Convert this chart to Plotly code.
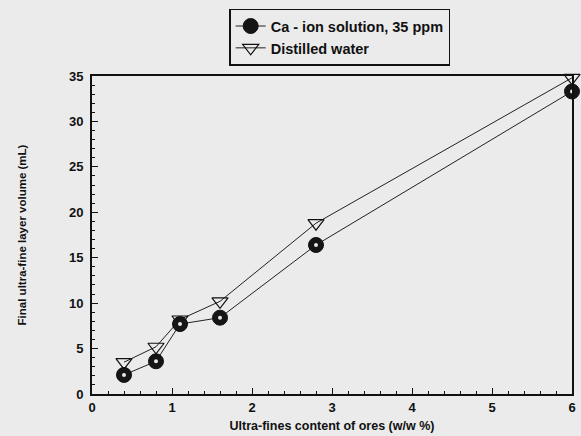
import plotly.graph_objects as go

# Ultra-fines content of ores (w/w %)
fines = [0.4, 0.8, 1.1, 1.6, 2.8, 6.0]
# Final ultra-fine layer volume (mL)
vol_ca = [2.1, 3.6, 7.7, 8.4, 16.4, 33.3]
vol_water = [3.5, 5.2, 8.2, 10.2, 18.8, 34.8]

series_names = ["Ca - ion solution, 35 ppm", "Distilled water"]

x_ticks = [0, 1, 2, 3, 4, 5, 6]
y_ticks = [0, 5, 10, 15, 20, 25, 30, 35]

BG = "#ebebeb"
FONT = "Liberation Sans"
INK = "#111"

fig = go.Figure()

fig.add_trace(go.Scatter(
    x=fines, y=vol_water, name=series_names[1], mode="lines+markers",
    cliponaxis=False,
    line=dict(color="#222", width=1),
    marker=dict(symbol="triangle-down-open", size=14, color=INK,
                line=dict(width=1.2, color=INK)),
))
fig.add_trace(go.Scatter(
    x=fines, y=vol_ca, name=series_names[0], mode="lines+markers",
    cliponaxis=False, legendgroup="ca",
    line=dict(color="#222", width=1),
    marker=dict(symbol="circle", size=15, color="#151515",
                line=dict(width=1, color=INK)),
))
# small highlight on each sphere marker
fig.add_trace(go.Scatter(
    x=fines, y=vol_ca, mode="markers", cliponaxis=False, legendgroup="ca",
    showlegend=False, hoverinfo="skip",
    marker=dict(symbol="circle", size=4, color="#e6e6e6"),
))

axis_common = dict(
    showgrid=False, zeroline=False, showline=True, linecolor=INK,
    linewidth=2, mirror=True, ticks="inside", ticklen=6, tickwidth=1.2,
    tickcolor=INK, automargin=False,
    tickfont=dict(family=FONT, size=13, color=INK, weight=700),
)

fig.update_xaxes(
    range=[0, 6], tickmode="array", tickvals=x_ticks,
    ticktext=[f"<b>{v}</b>" for v in x_ticks],
    minor=dict(ticks="inside", dtick=0.2, tick0=0, ticklen=3,
               tickcolor=INK, tickwidth=1),
    title=dict(text="<b>Ultra-fines content of ores (w/w %)</b>",
               font=dict(family=FONT, size=12.5, color=INK), standoff=8),
    **axis_common,
)
fig.update_yaxes(
    range=[0, 35], tickmode="array", tickvals=y_ticks,
    ticktext=[f"<b>{v}</b>" for v in y_ticks],
    minor=dict(ticks="inside", dtick=1, tick0=0, ticklen=3,
               tickcolor=INK, tickwidth=1),
    ticklabelstandoff=4,
    title=dict(text="<b>Final ultra-fine layer volume (mL)</b>",
               font=dict(family=FONT, size=11.5, color=INK), standoff=40),
    **axis_common,
)

fig.update_layout(
    width=581, height=436,
    margin=dict(l=92, r=9, t=76, b=42),
    paper_bgcolor=BG, plot_bgcolor=BG,
    font=dict(family=FONT, color=INK),
    legend=dict(
        x=0.516, xanchor="center", y=1.212, yanchor="top",
        bgcolor=BG, bordercolor=INK, borderwidth=1.5,
        traceorder="reversed",
        font=dict(family=FONT, size=14.5, color=INK, weight="bold"),
        tracegroupgap=0,
    ),
)

fig.write_html("out.html")
